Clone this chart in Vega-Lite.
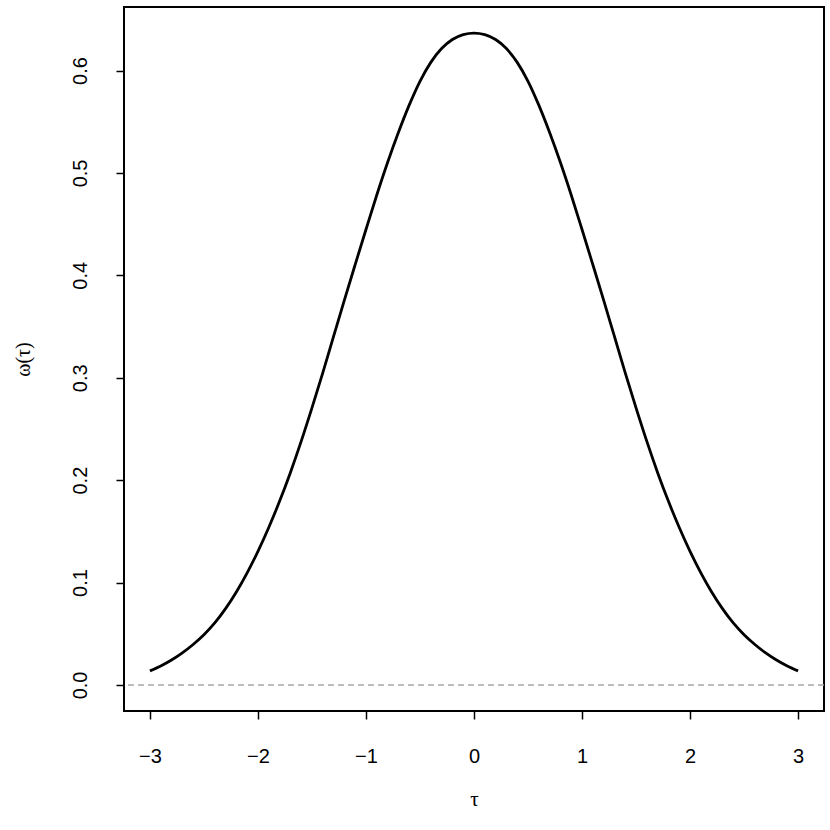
{
  "$schema": "https://vega.github.io/schema/vega-lite/v6.json",
  "width": 700,
  "height": 704,
  "autosize": {"type": "none"},
  "padding": {"left": 124, "top": 7, "right": 6, "bottom": 119},
  "background": "white",
  "config": {
    "view": {"stroke": "black", "strokeWidth": 2},
    "font": "Liberation Sans"
  },
  "datasets": {
    "curve": [
      {"tau": -3.0, "omega": 0.0137}, {"tau": -2.9, "omega": 0.0185}, {"tau": -2.8, "omega": 0.0243},
      {"tau": -2.7, "omega": 0.0313}, {"tau": -2.6, "omega": 0.0395}, {"tau": -2.5, "omega": 0.0490},
      {"tau": -2.4, "omega": 0.0605}, {"tau": -2.3, "omega": 0.0745}, {"tau": -2.2, "omega": 0.0908},
      {"tau": -2.1, "omega": 0.1095}, {"tau": -2.0, "omega": 0.1305}, {"tau": -1.9, "omega": 0.1538},
      {"tau": -1.8, "omega": 0.1793}, {"tau": -1.7, "omega": 0.2073}, {"tau": -1.6, "omega": 0.2378},
      {"tau": -1.5, "omega": 0.2705}, {"tau": -1.4, "omega": 0.3048}, {"tau": -1.3, "omega": 0.3403},
      {"tau": -1.2, "omega": 0.3758}, {"tau": -1.1, "omega": 0.4105}, {"tau": -1.0, "omega": 0.4448},
      {"tau": -0.9, "omega": 0.4785}, {"tau": -0.8, "omega": 0.5102}, {"tau": -0.7, "omega": 0.5395},
      {"tau": -0.6, "omega": 0.5662}, {"tau": -0.5, "omega": 0.5895}, {"tau": -0.4, "omega": 0.6080},
      {"tau": -0.3, "omega": 0.6215}, {"tau": -0.2, "omega": 0.6303}, {"tau": -0.1, "omega": 0.6351},
      {"tau": 0.0, "omega": 0.6366},
      {"tau": 0.1, "omega": 0.6351}, {"tau": 0.2, "omega": 0.6303}, {"tau": 0.3, "omega": 0.6215},
      {"tau": 0.4, "omega": 0.6080}, {"tau": 0.5, "omega": 0.5895}, {"tau": 0.6, "omega": 0.5662},
      {"tau": 0.7, "omega": 0.5395}, {"tau": 0.8, "omega": 0.5102}, {"tau": 0.9, "omega": 0.4785},
      {"tau": 1.0, "omega": 0.4448}, {"tau": 1.1, "omega": 0.4105}, {"tau": 1.2, "omega": 0.3758},
      {"tau": 1.3, "omega": 0.3403}, {"tau": 1.4, "omega": 0.3048}, {"tau": 1.5, "omega": 0.2705},
      {"tau": 1.6, "omega": 0.2378}, {"tau": 1.7, "omega": 0.2073}, {"tau": 1.8, "omega": 0.1793},
      {"tau": 1.9, "omega": 0.1538}, {"tau": 2.0, "omega": 0.1305}, {"tau": 2.1, "omega": 0.1095},
      {"tau": 2.2, "omega": 0.0908}, {"tau": 2.3, "omega": 0.0745}, {"tau": 2.4, "omega": 0.0605},
      {"tau": 2.5, "omega": 0.0490}, {"tau": 2.6, "omega": 0.0395}, {"tau": 2.7, "omega": 0.0313},
      {"tau": 2.8, "omega": 0.0243}, {"tau": 2.9, "omega": 0.0185}, {"tau": 3.0, "omega": 0.0137}
    ],
    "zero": [{"omega": 0}]
  },
  "layer": [
    {
      "data": {"name": "zero"},
      "mark": {"type": "rule", "color": "#a6a6a6", "strokeDash": [6, 4], "strokeWidth": 1.5},
      "encoding": {
        "y": {"field": "omega", "type": "quantitative", "scale": {"domain": [-0.02546, 0.66206], "nice": false, "zero": false}}
      }
    },
    {
      "data": {"name": "curve"},
      "mark": {"type": "line", "color": "black", "strokeWidth": 2.8, "interpolate": "monotone"},
      "encoding": {
        "x": {
          "field": "tau", "type": "quantitative",
          "scale": {"domain": [-3.24, 3.24], "nice": false, "zero": false},
          "axis": {
            "values": [-3, -2, -1, 0, 1, 2, 3],
            "format": "d",
            "grid": false, "domain": false,
            "tickColor": "black", "tickWidth": 1.5, "tickSize": 8,
            "labelColor": "black", "labelFontSize": 20, "labelPadding": 27, "labelFont": "Liberation Sans",
            "title": "τ", "titleFont": "Liberation Serif", "titleFontSize": 21, "titleFontWeight": "normal",
            "titleColor": "black", "titlePadding": 22
          }
        },
        "y": {
          "field": "omega", "type": "quantitative",
          "scale": {"domain": [-0.02546, 0.66206], "nice": false, "zero": false},
          "axis": {
            "values": [0, 0.1, 0.2, 0.3, 0.4, 0.5, 0.6],
            "format": ".1f",
            "grid": false, "domain": false,
            "tickColor": "black", "tickWidth": 1.5, "tickSize": 8,
            "labelColor": "black", "labelFontSize": 20, "labelPadding": 26, "labelFont": "Liberation Sans",
            "labelAngle": 270, "labelAlign": "center", "labelBaseline": "bottom",
            "title": "ω(τ)", "titleFont": "Liberation Serif", "titleFontSize": 20, "titleFontWeight": "normal",
            "titleColor": "black", "titlePadding": 37
          }
        }
      }
    }
  ]
}
